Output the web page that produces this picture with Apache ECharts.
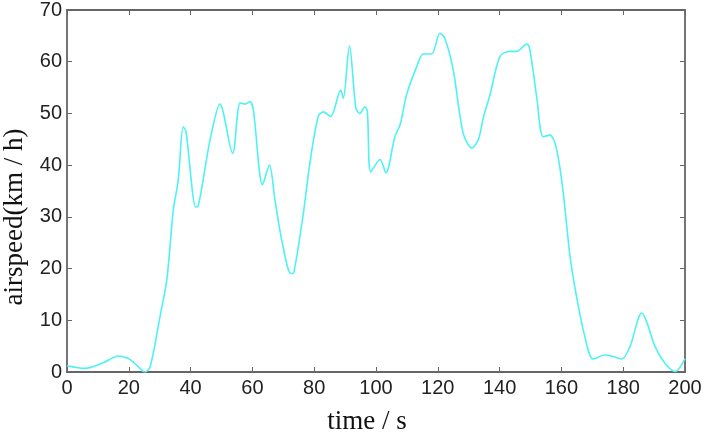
<!DOCTYPE html>
<html>
<head>
<meta charset="utf-8">
<script src="https://cdn.jsdelivr.net/npm/echarts@6/dist/echarts.min.js"></script>
<style>
  html, body { margin: 0; padding: 0; background: #fff; }
</style>
</head>
<body>
<div id="myChart" style="width: 705px;height:436px;"></div>
<script>
// 时间 (s) 与空速 (km/h)
const timeSec = [0, 5.8, 11.8, 16.6, 19.9, 22.5, 25.2, 26.9, 30.1, 32.3, 34.4, 36, 37.6, 38.5,
  41.7, 42.4, 46.3, 49.5, 53.6, 56, 57.6, 59.2, 60.3, 63.3, 65.5, 67.3, 69.5, 72.5, 73.4,
  76.5, 78.6, 81.3, 83, 85.3, 88.6, 89.4, 91.4, 93.5, 94.8, 96.4, 97.2, 98.3, 101.3, 103.2,
  106.1, 107.8, 109.9, 113.2, 115.3, 118, 120.7, 122.3, 125, 128.2, 131, 133.1, 134.7,
  136.9, 140.1, 143.4, 145.5, 148.8, 149.8, 152, 154.1, 156.3, 158.5, 160.6, 162.8, 164.9,
  167.6, 170.3, 174.1, 176.8, 179.5, 182.2, 186, 187.6, 190.3, 193.5, 196.8, 200];
const airspeed = [1.2, 0.7, 1.8, 3.1, 2.6, 1.35, 0, 1.0, 10.7, 17.8, 31.3, 37.1, 47.4, 46.5,
  31.9, 32, 44.9, 51.8, 42.3, 52, 51.8, 52.3, 50.7, 36.2, 40, 33.3, 25.5, 19, 19.2,
  30.7, 40.4, 49.4, 50.3, 49.4, 54.5, 52.9, 63.1, 51, 50, 51.3, 50.4, 38.7, 41.1, 38.5,
  45.5, 47.8, 53.6, 59.1, 61.5, 61.5, 65.5, 64.5, 58.4, 46.2, 43.3, 44.9, 49.1,
  53.6, 61, 62, 62, 63.4, 62.3, 53.2, 45.5, 45.8, 42.9, 34.6, 22.3, 14.6,
  6.8, 2.5, 3.3, 3.0, 2.5, 4.9, 11.4, 9.7, 4.9, 1.7, 0.1, 2.6];
const xTicks = [0, 20, 40, 60, 80, 100, 120, 140, 160, 180, 200];
const yTicks = [0, 10, 20, 30, 40, 50, 60, 70];

const axisColor = "#666";
const labelFont = { color: "#222", fontSize: 20, fontFamily: "Liberation Sans, Arial" };
const nameFont = { fontFamily: "Liberation Serif, Times New Roman", fontSize: 27, color: "#111" };

let myChart = echarts.init(document.getElementById("myChart"));
const boxAxis = {
  axisLine: { show: true, onZero: false, lineStyle: { color: axisColor, width: 1.8 } },
  axisTick: { show: true, inside: true, length: 5, lineStyle: { color: axisColor } },
  splitLine: { show: false }
};
myChart.setOption({
  animation: false,
  grid: { left: 67, right: 20, top: 10, bottom: 64, containLabel: false, outerBoundsMode: "none" },
  xAxis: [
    Object.assign({
      type: "value",
      min: xTicks[0],
      max: xTicks[xTicks.length - 1],
      interval: 20,
      name: "time / s",
      nameLocation: "middle",
      nameGap: 36,
      nameTextStyle: Object.assign({ padding: [0, 18, 0, 0] }, nameFont),
      axisLabel: Object.assign({ margin: 6 }, labelFont)
    }, boxAxis),
    Object.assign({
      type: "value",
      position: "top",
      min: xTicks[0],
      max: xTicks[xTicks.length - 1],
      interval: 20,
      axisLabel: { show: false }
    }, boxAxis)
  ],
  yAxis: [
    Object.assign({
      type: "value",
      min: yTicks[0],
      max: yTicks[yTicks.length - 1],
      interval: 10,
      name: "airspeed(km / h)",
      nameLocation: "middle",
      nameGap: 39,
      nameTextStyle: Object.assign({ padding: [0, 52, 0, 0] }, nameFont),
      axisLabel: Object.assign({ margin: 5 }, labelFont)
    }, boxAxis),
    Object.assign({
      type: "value",
      position: "right",
      min: yTicks[0],
      max: yTicks[yTicks.length - 1],
      interval: 10,
      axisLabel: { show: false }
    }, boxAxis)
  ],
  series: [
    {
      type: "line",
      smooth: 0.3,
      symbol: "none",
      lineStyle: { color: "#4ef2f2", width: 1.6 },
      data: timeSec.map((t, i) => [t, airspeed[i]])
    }
  ]
});
</script>
</body>
</html>
